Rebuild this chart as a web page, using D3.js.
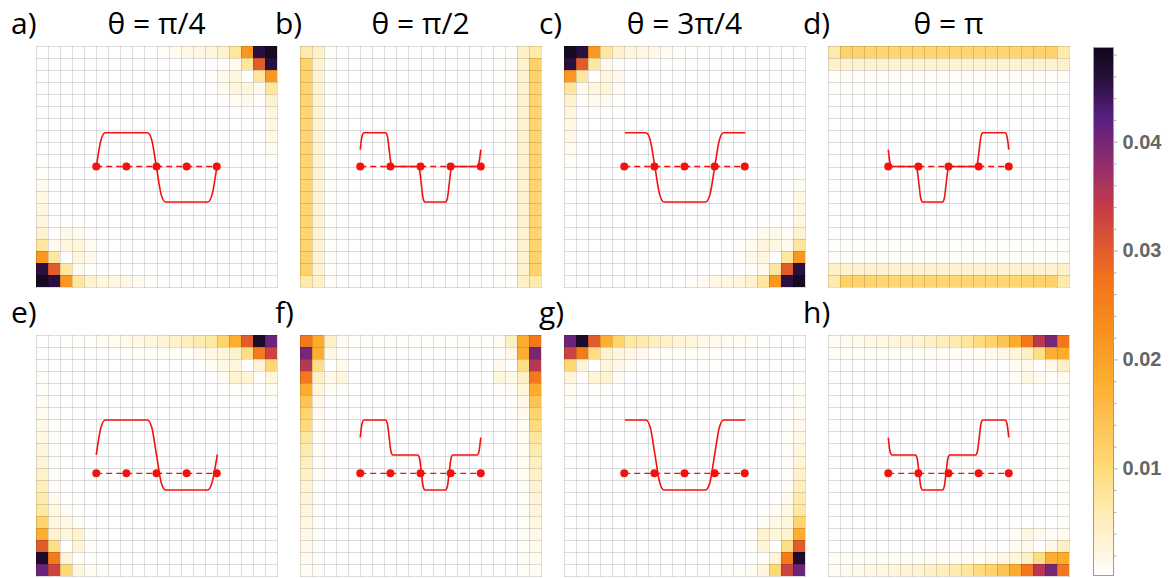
<!DOCTYPE html>
<html><head><meta charset="utf-8">
<script src="https://cdn.jsdelivr.net/npm/d3@7"></script>
<style>body{margin:0;background:#fff}svg{display:block}</style>
</head><body>
<svg id="chart" width="1172" height="578"></svg>
<script>
// ---------- DATA (cell values in units of 1e-4) ----------
const panelLabels = ["a)","b)","c)","d)","e)","f)","g)","h)"];
const panelTitles = ["θ = π/4","θ = π/2","θ = 3π/4","θ = π","","","",""];
const UNIT = 1e-4;

const gridA = [
[2,2,2,2,2,2,2,2,2,5,8,12,18,20,25,38,75,215,455,480],
[2,2,2,2,2,2,2,2,2,2,2,2,2,2,2,6,14,75,300,455],
[2,2,2,2,2,2,2,2,2,2,2,2,2,2,6,15,24,3,75,215],
[2,2,2,2,2,2,2,2,2,2,2,2,2,2,5,12,28,24,14,75],
[2,2,2,2,2,2,2,2,2,2,2,2,2,2,2,5,12,15,6,38],
[2,2,2,2,2,2,2,2,2,2,2,2,2,2,2,2,5,6,3,25],
[2,2,2,2,2,2,2,2,2,2,2,2,2,2,2,2,2,2,2,20],
[2,2,2,2,2,2,2,2,2,2,2,2,2,2,2,2,2,2,2,18],
[2,2,2,2,2,2,2,2,2,2,2,2,2,2,2,2,2,2,2,12],
[5,2,2,2,2,2,2,2,2,2,2,2,2,2,2,2,2,2,2,8],
[8,2,2,2,2,2,2,2,2,2,2,2,2,2,2,2,2,2,2,5],
[12,2,2,2,2,2,2,2,2,2,2,2,2,2,2,2,2,2,2,2],
[18,2,2,2,2,2,2,2,2,2,2,2,2,2,2,2,2,2,2,2],
[20,2,2,2,2,2,2,2,2,2,2,2,2,2,2,2,2,2,2,2],
[25,3,6,5,2,2,2,2,2,2,2,2,2,2,2,2,2,2,2,2],
[38,6,15,12,5,2,2,2,2,2,2,2,2,2,2,2,2,2,2,2],
[75,14,24,28,12,5,2,2,2,2,2,2,2,2,2,2,2,2,2,2],
[215,75,3,24,15,6,2,2,2,2,2,2,2,2,2,2,2,2,2,2],
[455,300,75,14,6,2,2,2,2,2,2,2,2,2,2,2,2,2,2,2],
[480,455,215,75,38,25,20,18,12,8,5,2,2,2,2,2,2,2,2,2]];

const gridB = [
[65,42,8,5,2,2,2,2,2,2,2,2,2,2,2,2,5,8,42,65],
[118,38,8,5,2,2,2,2,2,2,2,2,2,2,2,2,5,8,38,118],
[115,38,8,5,2,2,2,2,2,2,2,2,2,2,2,2,5,8,38,115],
[112,38,8,5,2,2,2,2,2,2,2,2,2,2,2,2,5,8,38,112],
[110,38,8,5,2,2,2,2,2,2,2,2,2,2,2,2,5,8,38,110],
[110,38,8,5,2,2,2,2,2,2,2,2,2,2,2,2,5,8,38,110],
[110,38,8,5,2,2,2,2,2,2,2,2,2,2,2,2,5,8,38,110],
[110,38,8,5,2,2,2,2,2,2,2,2,2,2,2,2,5,8,38,110],
[110,38,8,5,2,2,2,2,2,2,2,2,2,2,2,2,5,8,38,110],
[110,38,8,5,2,2,2,2,2,2,2,2,2,2,2,2,5,8,38,110],
[110,38,8,5,2,2,2,2,2,2,2,2,2,2,2,2,5,8,38,110],
[110,38,8,5,2,2,2,2,2,2,2,2,2,2,2,2,5,8,38,110],
[110,38,8,5,2,2,2,2,2,2,2,2,2,2,2,2,5,8,38,110],
[110,38,8,5,2,2,2,2,2,2,2,2,2,2,2,2,5,8,38,110],
[110,38,8,5,2,2,2,2,2,2,2,2,2,2,2,2,5,8,38,110],
[110,38,8,5,2,2,2,2,2,2,2,2,2,2,2,2,5,8,38,110],
[112,38,8,5,2,2,2,2,2,2,2,2,2,2,2,2,5,8,38,112],
[115,38,8,5,2,2,2,2,2,2,2,2,2,2,2,2,5,8,38,115],
[118,38,8,5,2,2,2,2,2,2,2,2,2,2,2,2,5,8,38,118],
[65,42,8,5,2,2,2,2,2,2,2,2,2,2,2,2,5,8,42,65]];

const gridC = [
[480,455,215,75,38,25,20,18,12,8,5,2,2,2,2,2,2,2,2,2],
[455,300,75,14,6,2,2,2,2,2,2,2,2,2,2,2,2,2,2,2],
[215,75,3,24,15,6,2,2,2,2,2,2,2,2,2,2,2,2,2,2],
[75,14,24,28,12,5,2,2,2,2,2,2,2,2,2,2,2,2,2,2],
[38,6,15,12,5,2,2,2,2,2,2,2,2,2,2,2,2,2,2,2],
[25,3,6,5,2,2,2,2,2,2,2,2,2,2,2,2,2,2,2,2],
[20,2,2,2,2,2,2,2,2,2,2,2,2,2,2,2,2,2,2,2],
[18,2,2,2,2,2,2,2,2,2,2,2,2,2,2,2,2,2,2,2],
[12,2,2,2,2,2,2,2,2,2,2,2,2,2,2,2,2,2,2,2],
[8,2,2,2,2,2,2,2,2,2,2,2,2,2,2,2,2,2,2,5],
[5,2,2,2,2,2,2,2,2,2,2,2,2,2,2,2,2,2,2,8],
[2,2,2,2,2,2,2,2,2,2,2,2,2,2,2,2,2,2,2,12],
[2,2,2,2,2,2,2,2,2,2,2,2,2,2,2,2,2,2,2,18],
[2,2,2,2,2,2,2,2,2,2,2,2,2,2,2,2,2,2,2,20],
[2,2,2,2,2,2,2,2,2,2,2,2,2,2,2,2,5,6,3,25],
[2,2,2,2,2,2,2,2,2,2,2,2,2,2,2,5,12,15,6,38],
[2,2,2,2,2,2,2,2,2,2,2,2,2,2,5,12,28,24,14,75],
[2,2,2,2,2,2,2,2,2,2,2,2,2,2,6,15,24,3,75,215],
[2,2,2,2,2,2,2,2,2,2,2,2,2,2,2,6,14,75,300,455],
[2,2,2,2,2,2,2,2,2,5,8,12,18,20,25,38,75,215,455,480]];

const gridD = [
[65,118,115,112,110,110,110,110,110,110,110,110,110,110,110,110,112,115,118,65],
[42,38,38,38,38,38,38,38,38,38,38,38,38,38,38,38,38,38,38,42],
[8,8,8,8,8,8,8,8,8,8,8,8,8,8,8,8,8,8,8,8],
[5,5,5,5,5,5,5,5,5,5,5,5,5,5,5,5,5,5,5,5],
[2,2,2,2,2,2,2,2,2,2,2,2,2,2,2,2,2,2,2,2],
[2,2,2,2,2,2,2,2,2,2,2,2,2,2,2,2,2,2,2,2],
[2,2,2,2,2,2,2,2,2,2,2,2,2,2,2,2,2,2,2,2],
[2,2,2,2,2,2,2,2,2,2,2,2,2,2,2,2,2,2,2,2],
[2,2,2,2,2,2,2,2,2,2,2,2,2,2,2,2,2,2,2,2],
[2,2,2,2,2,2,2,2,2,2,2,2,2,2,2,2,2,2,2,2],
[2,2,2,2,2,2,2,2,2,2,2,2,2,2,2,2,2,2,2,2],
[2,2,2,2,2,2,2,2,2,2,2,2,2,2,2,2,2,2,2,2],
[2,2,2,2,2,2,2,2,2,2,2,2,2,2,2,2,2,2,2,2],
[2,2,2,2,2,2,2,2,2,2,2,2,2,2,2,2,2,2,2,2],
[2,2,2,2,2,2,2,2,2,2,2,2,2,2,2,2,2,2,2,2],
[2,2,2,2,2,2,2,2,2,2,2,2,2,2,2,2,2,2,2,2],
[5,5,5,5,5,5,5,5,5,5,5,5,5,5,5,5,5,5,5,5],
[8,8,8,8,8,8,8,8,8,8,8,8,8,8,8,8,8,8,8,8],
[42,38,38,38,38,38,38,38,38,38,38,38,38,38,38,38,38,38,38,42],
[65,118,115,112,110,110,110,110,110,110,110,110,110,110,110,110,112,115,118,65]];

const gridE = [
[3,4,5,6,8,10,12,15,18,25,30,40,50,62,70,112,180,300,470,410],
[4,3,3,4,4,5,5,6,8,8,8,8,8,14,22,25,38,92,260,330],
[5,3,3,3,3,3,3,3,3,3,3,3,3,3,10,18,28,3,30,105],
[6,4,3,3,3,3,3,3,3,3,3,3,3,3,3,10,38,32,6,25],
[8,4,3,3,3,3,3,3,3,3,3,3,3,3,3,3,8,8,3,10],
[10,5,3,3,3,3,3,3,3,3,3,3,3,3,3,3,3,3,3,8],
[12,5,3,3,3,3,3,3,3,3,3,3,3,3,3,3,3,3,3,6],
[15,6,3,3,3,3,3,3,3,3,3,3,3,3,3,3,3,3,3,4],
[18,8,3,3,3,3,3,3,3,3,3,3,3,3,3,3,3,3,3,3],
[25,8,3,3,3,3,3,3,3,3,3,3,3,3,3,3,3,3,3,3],
[30,8,3,3,3,3,3,3,3,3,3,3,3,3,3,3,3,3,3,3],
[40,8,3,3,3,3,3,3,3,3,3,3,3,3,3,3,3,3,3,3],
[50,8,3,3,3,3,3,3,3,3,3,3,3,3,3,3,3,3,3,3],
[62,14,3,3,3,3,3,3,3,3,3,3,3,3,3,3,3,3,3,3],
[70,22,10,3,3,3,3,3,3,3,3,3,3,3,3,3,3,3,3,3],
[112,25,18,10,3,3,3,3,3,3,3,3,3,3,3,3,3,3,3,3],
[180,38,28,38,8,3,3,3,3,3,3,3,3,3,3,3,3,3,3,3],
[300,92,3,32,8,3,3,3,3,3,3,3,3,3,3,3,3,3,3,3],
[470,260,30,6,3,3,3,3,3,3,3,3,3,3,3,3,3,3,3,3],
[410,330,105,25,10,8,6,4,3,3,3,3,3,3,3,3,3,3,3,3]];

const gridF = [
[265,185,45,12,6,6,6,6,6,6,6,6,6,6,6,6,12,45,185,265],
[400,180,18,8,3,3,3,3,3,3,3,3,3,3,3,3,8,18,180,400],
[350,92,3,14,3,3,3,3,3,3,3,3,3,3,3,3,14,3,92,350],
[265,45,16,24,3,3,3,3,3,3,3,3,3,3,3,3,24,16,45,265],
[185,28,10,8,3,3,3,3,3,3,3,3,3,3,3,3,8,10,28,185],
[140,18,5,4,3,3,3,3,3,3,3,3,3,3,3,3,4,5,18,140],
[112,14,5,4,3,3,3,3,3,3,3,3,3,3,3,3,4,5,14,112],
[98,10,5,4,3,3,3,3,3,3,3,3,3,3,3,3,4,5,10,98],
[75,10,5,4,3,3,3,3,3,3,3,3,3,3,3,3,4,5,10,75],
[62,10,5,4,3,3,3,3,3,3,3,3,3,3,3,3,4,5,10,62],
[50,10,5,4,3,3,3,3,3,3,3,3,3,3,3,3,4,5,10,50],
[42,10,5,4,3,3,3,3,3,3,3,3,3,3,3,3,4,5,10,42],
[35,8,4,3,3,3,3,3,3,3,3,3,3,3,3,3,3,4,8,35],
[30,8,4,3,3,3,3,3,3,3,3,3,3,3,3,3,3,4,8,30],
[26,8,4,3,3,3,3,3,3,3,3,3,3,3,3,3,3,4,8,26],
[22,8,4,3,3,3,3,3,3,3,3,3,3,3,3,3,3,4,8,22],
[18,8,4,3,3,3,3,3,3,3,3,3,3,3,3,3,3,4,8,18],
[15,8,4,3,3,3,3,3,3,3,3,3,3,3,3,3,3,4,8,15],
[12,8,4,3,3,3,3,3,3,3,3,3,3,3,3,3,3,4,8,12],
[10,8,4,3,3,3,3,3,3,3,3,3,3,3,3,3,3,4,8,10]];

const gridG = [
[410,470,300,180,112,70,62,50,40,30,25,18,15,12,10,8,6,5,4,3],
[330,260,92,38,25,22,14,8,8,8,8,8,6,5,5,4,4,3,3,4],
[105,30,3,28,18,10,3,3,3,3,3,3,3,3,3,3,3,3,3,5],
[25,6,32,38,10,3,3,3,3,3,3,3,3,3,3,3,3,3,4,6],
[10,3,8,8,3,3,3,3,3,3,3,3,3,3,3,3,3,3,4,8],
[8,3,3,3,3,3,3,3,3,3,3,3,3,3,3,3,3,3,5,10],
[6,3,3,3,3,3,3,3,3,3,3,3,3,3,3,3,3,3,5,12],
[4,3,3,3,3,3,3,3,3,3,3,3,3,3,3,3,3,3,6,15],
[3,3,3,3,3,3,3,3,3,3,3,3,3,3,3,3,3,3,8,18],
[3,3,3,3,3,3,3,3,3,3,3,3,3,3,3,3,3,3,8,25],
[3,3,3,3,3,3,3,3,3,3,3,3,3,3,3,3,3,3,8,30],
[3,3,3,3,3,3,3,3,3,3,3,3,3,3,3,3,3,3,8,40],
[3,3,3,3,3,3,3,3,3,3,3,3,3,3,3,3,3,3,8,50],
[3,3,3,3,3,3,3,3,3,3,3,3,3,3,3,3,3,3,14,62],
[3,3,3,3,3,3,3,3,3,3,3,3,3,3,3,3,3,10,22,70],
[3,3,3,3,3,3,3,3,3,3,3,3,3,3,3,3,10,18,25,112],
[3,3,3,3,3,3,3,3,3,3,3,3,3,3,3,8,38,28,38,180],
[3,3,3,3,3,3,3,3,3,3,3,3,3,3,3,8,32,3,92,300],
[3,3,3,3,3,3,3,3,3,3,3,3,3,3,3,3,6,30,260,470],
[3,3,3,3,3,3,3,3,3,3,3,3,4,6,8,10,25,105,330,410]];

const gridH = [
[10,12,15,18,22,26,30,35,42,50,62,75,98,112,140,185,265,350,400,265],
[8,8,8,8,8,8,8,8,10,10,10,10,10,14,18,28,45,92,180,185],
[4,4,4,4,4,4,4,4,5,5,5,5,5,5,5,10,16,3,18,45],
[3,3,3,3,3,3,3,3,4,4,4,4,4,4,4,8,24,14,8,12],
[3,3,3,3,3,3,3,3,3,3,3,3,3,3,3,3,3,3,3,6],
[3,3,3,3,3,3,3,3,3,3,3,3,3,3,3,3,3,3,3,6],
[3,3,3,3,3,3,3,3,3,3,3,3,3,3,3,3,3,3,3,6],
[3,3,3,3,3,3,3,3,3,3,3,3,3,3,3,3,3,3,3,6],
[3,3,3,3,3,3,3,3,3,3,3,3,3,3,3,3,3,3,3,6],
[3,3,3,3,3,3,3,3,3,3,3,3,3,3,3,3,3,3,3,6],
[3,3,3,3,3,3,3,3,3,3,3,3,3,3,3,3,3,3,3,6],
[3,3,3,3,3,3,3,3,3,3,3,3,3,3,3,3,3,3,3,6],
[3,3,3,3,3,3,3,3,3,3,3,3,3,3,3,3,3,3,3,6],
[3,3,3,3,3,3,3,3,3,3,3,3,3,3,3,3,3,3,3,6],
[3,3,3,3,3,3,3,3,3,3,3,3,3,3,3,3,3,3,3,6],
[3,3,3,3,3,3,3,3,3,3,3,3,3,3,3,3,3,3,3,6],
[3,3,3,3,3,3,3,3,4,4,4,4,4,4,4,8,24,14,8,12],
[4,4,4,4,4,4,4,4,5,5,5,5,5,5,5,10,16,3,18,45],
[8,8,8,8,8,8,8,8,10,10,10,10,10,14,18,28,45,92,180,185],
[10,12,15,18,22,26,30,35,42,50,62,75,98,112,140,185,265,350,400,265]];

// overlay curves (x, y in cell units)
const curveA = [[5,10.075],[5.4,7.775],[5.75,7.2],[9.25,7.2],[9.6,7.775],[10,10.075],[10.4,12.375],[10.75,12.95],[14.25,12.95],[14.6,12.375],[15,10.075]];
const curveB = [[5,8.6],[5.15,7.48],[5.3,7.2],[7.1,7.2],[7.25,7.48],[7.4,8.6],[7.55,9.72],[7.7,10],[9.77,10],[9.92,10.295],[10.07,11.475],[10.22,12.655],[10.37,12.95],[12.08,12.95],[12.23,12.655],[12.38,11.475],[12.53,10.295],[12.68,10],[14.7,10],[14.85,9.72],[15,8.6]];
const curveC = [[5.05,7.2],[6.8,7.2],[7.15,7.775],[7.55,10.075],[7.95,12.375],[8.3,12.95],[11.75,12.95],[12.1,12.375],[12.5,10.075],[12.9,7.775],[13.25,7.2],[15.05,7.2]];
const curveD = [[5,8.6],[5.15,9.72],[5.3,10],[7.25,10],[7.4,10.295],[7.55,11.475],[7.7,12.655],[7.85,12.95],[9.5,12.95],[9.65,12.655],[9.8,11.475],[9.95,10.295],[10.1,10],[12.25,10],[12.4,9.72],[12.55,8.6],[12.7,7.48],[12.85,7.2],[14.7,7.2],[14.85,7.48],[15,8.6]];
const curveE = [[5,9.955],[5.4,7.63],[5.75,7.05],[9.25,7.05],[9.6,7.63],[10,9.955],[10.4,12.28],[10.75,12.86],[14.25,12.86],[14.6,12.28],[15.05,9.9]];
const curveF = [[5,8.505],[5.15,7.34],[5.3,7.05],[7.1,7.05],[7.25,7.34],[7.4,8.505],[7.55,9.67],[7.7,9.96],[9.77,9.96],[9.92,10.25],[10.07,11.41],[10.22,12.57],[10.37,12.86],[12.08,12.86],[12.23,12.57],[12.38,11.41],[12.53,10.25],[12.68,9.96],[14.7,9.96],[14.85,9.67],[15,8.505]];
const curveG = [[5.05,7.05],[6.8,7.05],[7.15,7.63],[7.55,9.955],[7.95,12.28],[8.3,12.86],[11.75,12.86],[12.1,12.28],[12.5,9.955],[12.9,7.63],[13.25,7.05],[15.05,7.05]];
const curveH = [[5,8.505],[5.15,9.67],[5.3,9.96],[7.25,9.96],[7.4,10.25],[7.55,11.41],[7.7,12.57],[7.85,12.86],[9.5,12.86],[9.65,12.57],[9.8,11.41],[9.95,10.25],[10.1,9.96],[12.25,9.96],[12.4,9.67],[12.55,8.505],[12.7,7.34],[12.85,7.05],[14.7,7.05],[14.85,7.34],[15,8.505]];

const dotX = [5,7.5,10,12.5,15];
const dotYTop = 10, dotYBottom = 11.48;

// colour bar
const cbDomain = [0.0002, 0.0487];
const cbMajorTicks = [0.01,0.02,0.03,0.04];
const cbMajorLabels = ["0.01","0.02","0.03","0.04"];
const cbMinorTicks = [0.002,0.004,0.006,0.008,0.012,0.014,0.016,0.018,0.022,0.024,0.026,0.028,0.032,0.034,0.036,0.038,0.042,0.044,0.046,0.048];
const colorStopValues = [0,0.0004,0.0017,0.0063,0.010,0.014,0.0186,0.0232,0.0278,0.0308,0.034,0.0373,0.0422,0.0455,0.0487];
const colorStopColors = ["#ffffff","#ffffff","#fff8e8","#feebae","#fedb7a","#fdc455","#fcab2c","#f98c1c","#f0701c","#dc5530","#c43c48","#9a2f68","#5a2080","#2a1040","#100818"];

// ---------- DRAW ----------
const grids = [gridA,gridB,gridC,gridD,gridE,gridF,gridG,gridH];
const curves = [curveA,curveB,curveC,curveD,curveE,curveF,curveG,curveH];
grids.forEach((g,i)=>{ if(g.length!==20||g.some(r=>r.length!==20)) throw new Error("grid "+i+" bad size "+g.map(r=>r.length).join(",")); });

const color = d3.scaleLinear().domain(colorStopValues).range(colorStopColors).interpolate(d3.interpolateRgb).clamp(true);
const svg = d3.select("#chart");
svg.append("rect").attr("width",1172).attr("height",578).attr("fill","#fff");

const panelX = [36,300,564,828], panelY = [46,335], size = 241;
const fontTitle = "'Open Sans', 'DejaVu Sans', sans-serif";

grids.forEach((grid, pi) => {
  const col = pi % 4, row = Math.floor(pi/4);
  const x0 = panelX[col], y0 = panelY[row];
  const xs = d3.scaleLinear().domain([0,20]).range([x0, x0+size]);
  const ys = d3.scaleLinear().domain([0,20]).range([y0, y0+size]);
  const g = svg.append("g");
  const cells = grid.flatMap((r, ri) => r.map((v, ci) => ({ri, ci, v: v*UNIT})));
  g.selectAll("rect.cell").data(cells).join("rect")
    .attr("x", d => Math.round(xs(d.ci))).attr("y", d => Math.round(ys(d.ri)))
    .attr("width", d => Math.round(xs(d.ci+1)) - Math.round(xs(d.ci)))
    .attr("height", d => Math.round(ys(d.ri+1)) - Math.round(ys(d.ri)))
    .attr("shape-rendering","crispEdges")
    .attr("fill", d => color(d.v));
  const lines = d3.range(21);
  const gl = g.append("g").attr("stroke","#000").attr("stroke-opacity",0.13).attr("stroke-width",1)
    .attr("shape-rendering","crispEdges");
  gl.selectAll("line.v").data(lines).join("line")
    .attr("x1", d=>Math.round(xs(d))+0.5).attr("x2", d=>Math.round(xs(d))+0.5)
    .attr("y1", Math.round(ys(0))).attr("y2", Math.round(ys(20))+1);
  gl.selectAll("line.h").data(lines).join("line")
    .attr("y1", d=>Math.round(ys(d))+0.5).attr("y2", d=>Math.round(ys(d))+0.5)
    .attr("x1", Math.round(xs(0))).attr("x2", Math.round(xs(20))+1);

  // overlay
  const dy = row === 0 ? dotYTop : dotYBottom;
  g.append("line").attr("x1", xs(dotX[0])).attr("x2", xs(dotX[dotX.length-1]))
    .attr("y1", ys(dy)).attr("y2", ys(dy))
    .attr("stroke","#f51010").attr("stroke-width",1.4).attr("stroke-dasharray","6,4");
  const line = d3.line().x(d=>xs(d[0])).y(d=>ys(d[1])).curve(d3.curveMonotoneX);
  g.append("path").attr("d", line(curves[pi])).attr("fill","none")
    .attr("stroke","#f51010").attr("stroke-width",1.6);
  g.selectAll("circle").data(dotX).join("circle")
    .attr("cx", d=>xs(d)).attr("cy", ys(dy)).attr("r",4).attr("fill","#f51010");

  // labels
  const base = row === 0 ? 34 : 323;
  svg.append("text").attr("x", x0-25).attr("y", base).text(panelLabels[pi])
    .attr("font-family", fontTitle).attr("font-size", 30).attr("fill","#000");
  if (panelTitles[pi]) {
    svg.append("text").attr("x", x0+size/2).attr("y", base).attr("text-anchor","middle")
      .text(panelTitles[pi]).attr("font-family", fontTitle).attr("font-size", 30).attr("fill","#000");
  }
});

// colour bar
const cbX = 1093, cbW = 20, cbTop = 47, cbBot = 575;
const cbScale = d3.scaleLinear().domain(cbDomain).range([cbBot, cbTop]);
const defs = svg.append("defs");
const grad = defs.append("linearGradient").attr("id","cbgrad").attr("x1",0).attr("y1",1).attr("x2",0).attr("y2",0);
d3.range(0, 1.0001, 0.01).forEach(t => {
  const v = cbDomain[0] + t*(cbDomain[1]-cbDomain[0]);
  grad.append("stop").attr("offset", t).attr("stop-color", color(v));
});
svg.append("rect").attr("x",cbX+0.5).attr("y",cbTop+0.5).attr("width",cbW).attr("height",cbBot-cbTop)
  .attr("fill","url(#cbgrad)").attr("stroke","#9a9a9a").attr("stroke-width",1);

const axMinor = d3.axisRight(cbScale).tickValues(cbMinorTicks).tickSize(3).tickFormat("");
const axMajor = d3.axisRight(cbScale).tickValues(cbMajorTicks).tickSize(4).tickPadding(5)
  .tickFormat((d,i)=>cbMajorLabels[i]);
const gMin = svg.append("g").attr("transform",`translate(${cbX+cbW+0.5},0)`).call(axMinor);
const gMaj = svg.append("g").attr("transform",`translate(${cbX+cbW+0.5},0)`).call(axMajor);
[gMin,gMaj].forEach(gg=>{ gg.select(".domain").remove(); gg.selectAll("line").attr("stroke","#aaa"); });
gMaj.selectAll("text").attr("font-family","'Liberation Sans', Arial, sans-serif").attr("font-weight","bold")
  .attr("font-size",20).attr("fill","#666");
</script>
</body></html>
